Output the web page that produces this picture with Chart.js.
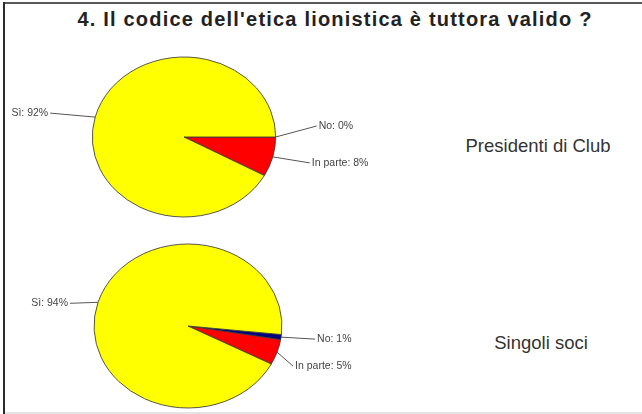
<!DOCTYPE html>
<html>
<head>
<meta charset="utf-8">
<script src="https://cdn.jsdelivr.net/npm/chart.js@4.4.1/dist/chart.umd.min.js"></script>
<style>
  html, body { margin:0; padding:0; background:#fff; }
  body { width:642px; height:414px; position:relative; overflow:hidden; font-family:"Liberation Sans", Arial, sans-serif; }
  .frameTop { position:absolute; left:3px; top:2px; width:639px; height:2px; background:#5a5a5a; }
  .frameLeft { position:absolute; left:3px; top:2px; width:2px; height:412px; background:#2a2a2a; }
  .frameBottom { position:absolute; left:5px; top:412px; width:637px; height:2px; background:#e4e4e4; }
  .title { position:absolute; left:35px; width:600px; top:8px; text-align:center; font-weight:bold; font-size:20px; letter-spacing:1.2px; color:#222; white-space:nowrap; }
  .side { position:absolute; font-size:18.5px; color:#333; white-space:nowrap; width:200px; text-align:center; }
  canvas { position:absolute; }
</style>
</head>
<body>
<div class="frameTop"></div>
<div class="frameLeft"></div>
<div class="frameBottom"></div>
<div class="title" id="title"></div>
<div class="side" id="side1" style="left:438px; top:135px;"></div>
<div class="side" id="side2" style="left:441px; top:332px;"></div>
<div style="position:absolute;left:0;top:37px;width:440px;height:200px;"><canvas id="c1"></canvas></div>
<div style="position:absolute;left:0;top:238px;width:440px;height:176px;"><canvas id="c2"></canvas></div>
<script>
// ---- data ----
const titleText = "4. Il codice dell'etica lionistica è tuttora valido ?";
const categories = ["No", "In parte", "Sì"];
const groups = ["Presidenti di Club", "Singoli soci"];
const presidentiValues = [0, 8, 92];
const sociValues = [1, 5, 94];

// ---- styles ----
const sliceColors = ["#000080", "#ff0000", "#ffff00"];
const stretchX = 1.146;

document.getElementById('title').textContent = titleText;
document.getElementById('side1').textContent = groups[0];
document.getElementById('side2').textContent = groups[1];

const ellipsePlugin = {
  id: 'ellipse',
  beforeDatasetsDraw(chart) {
    const arc = chart.getDatasetMeta(0).data[0];
    const ctx = chart.ctx;
    ctx.save();
    ctx.translate(arc.x, arc.y);
    ctx.scale(stretchX, 1);
    ctx.translate(-arc.x, -arc.y);
  },
  afterDatasetsDraw(chart) {
    chart.ctx.restore();
  }
};

const labelPlugin = {
  id: 'sliceLabels',
  afterDraw(chart, args, opts) {
    const ctx = chart.ctx;
    const meta = chart.getDatasetMeta(0);
    const values = chart.data.datasets[0].data;
    ctx.save();
    ctx.font = '10.5px "Liberation Sans", Arial, sans-serif';
    ctx.fillStyle = '#444';
    ctx.strokeStyle = '#555';
    ctx.lineWidth = 1;
    ctx.textBaseline = 'middle';
    meta.data.forEach((arc, i) => {
      const a = (arc.startAngle + arc.endAngle) / 2;
      const R = arc.outerRadius;
      const ex = arc.x + stretchX * R * Math.cos(a);
      const ey = arc.y + R * Math.sin(a);
      const off = opts.offsets[i];
      const tx = ex + off[0], ty = ey + off[1];
      ctx.beginPath();
      ctx.moveTo(ex, ey);
      ctx.lineTo(tx, ty);
      ctx.stroke();
      const txt = chart.data.labels[i] + ': ' + values[i] + '%';
      if (off[0] >= 0) { ctx.textAlign = 'left'; ctx.fillText(txt, tx + 2, ty); }
      else { ctx.textAlign = 'right'; ctx.fillText(txt, tx - 2, ty); }
    });
    ctx.restore();
  }
};

function makePie(id, values, radius, rotation, padRight, offsets) {
  return new Chart(document.getElementById(id), {
    type: 'pie',
    data: {
      labels: categories,
      datasets: [{
        data: values,
        backgroundColor: sliceColors,
        borderColor: '#3a3a3a',
        borderWidth: 0.8
      }]
    },
    options: {
      responsive: true,
      maintainAspectRatio: false,
      animation: false,
      rotation: rotation,
      radius: radius,
      layout: { padding: { left: 0, right: padRight, top: 0, bottom: 0 } },
      plugins: {
        legend: { display: false },
        tooltip: { enabled: false },
        sliceLabels: { offsets: offsets }
      }
    },
    plugins: [ellipsePlugin, labelPlugin]
  });
}

makePie('c1', presidentiValues, 80, 90, 72, [[41, -11], [37, 6], [-45, -4]]);
makePie('c2', sociValues, 82, 96, 64, [[34, 2], [16, 14], [-28, 1]]);
</script>
</body>
</html>
